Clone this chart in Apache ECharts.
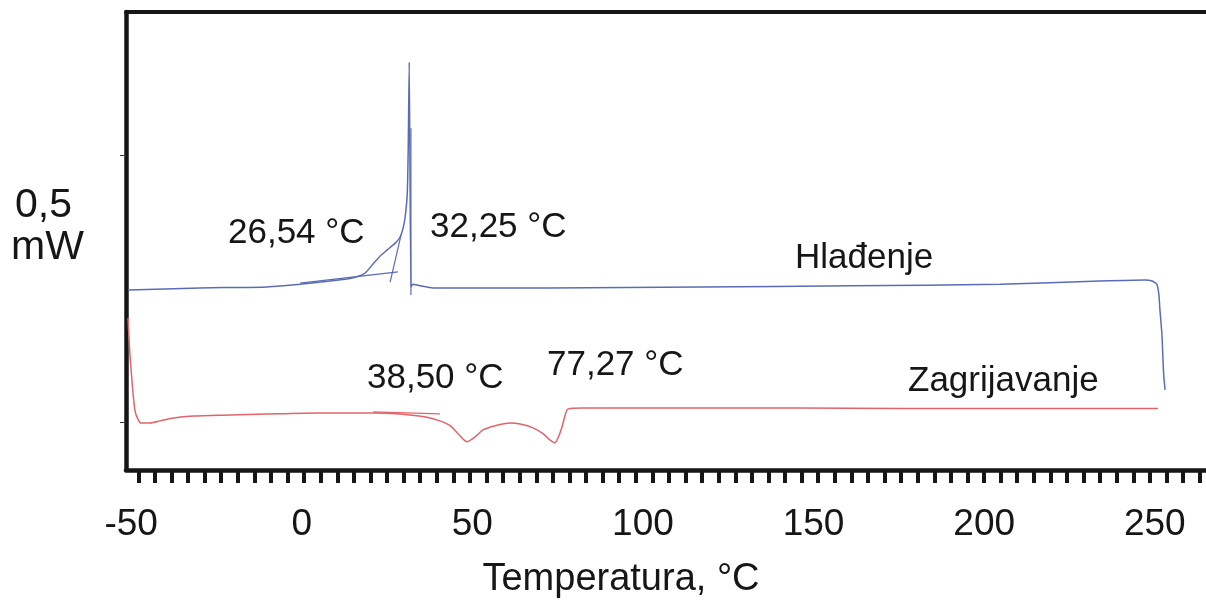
<!DOCTYPE html>
<html>
<head>
<meta charset="utf-8">
<script src="https://cdn.jsdelivr.net/npm/echarts@6/dist/echarts.min.js"></script>
<style>
  html, body { margin: 0; padding: 0; background: #fff; }
  #chartDiv { width: 1206px; height: 603px; }
</style>
</head>
<body>
<div id="chartDiv"></div>
<script>
// DSC krivulje: temperatura (°C), toplinski tok (mW, relativno)
let coolingCurve = [
  [-50.9, 0.247], [-29.8, 0.251], [-10.2, 0.253], [-0.5, 0.258], [13.3, 0.268],
  [16.2, 0.272], [18.6, 0.279], [20.9, 0.296], [23.0, 0.311], [25.0, 0.322],
  [27.4, 0.335], [28.8, 0.346], [29.7, 0.363], [30.3, 0.384], [30.9, 0.425],
  [31.2, 0.509], [31.5, 0.674], [32.0, 0.253], [32.6, 0.258], [34.7, 0.255],
  [38.5, 0.251], [46.4, 0.251], [72.8, 0.251], [116.8, 0.253], [160.7, 0.255],
  [204.6, 0.258], [233.9, 0.264], [247.1, 0.266], [249.2, 0.264], [250.6, 0.258],
  [251.2, 0.238], [251.5, 0.210], [252.1, 0.163], [252.4, 0.116], [252.6, 0.088],
  [253.0, 0.060]
];
let heatingCurve = [
  [-50.9, 0.195], [-50.6, 0.154], [-50.3, 0.122], [-49.4, 0.051], [-48.8, 0.019],
  [-47.9, 0.004], [-47.1, -0.002], [-44.4, -0.002], [-41.5, 0.002], [-38.0, 0.007],
  [-31.8, 0.011], [-21.0, 0.013], [-10.2, 0.015], [5.4, 0.017], [20.9, 0.017],
  [28.8, 0.015], [36.7, 0.009], [40.5, 0.002], [43.5, -0.007], [45.8, -0.022],
  [48.4, -0.037], [50.8, -0.028], [53.1, -0.015], [56.7, -0.007], [61.0, -0.002],
  [64.0, -0.004], [67.8, -0.011], [70.7, -0.022], [72.8, -0.034], [74.2, -0.039],
  [75.1, -0.030], [76.3, -0.009], [77.2, 0.013], [78.0, 0.024], [82.4, 0.026],
  [87.4, 0.026], [116.8, 0.026], [146.0, 0.026], [175.3, 0.025], [204.6, 0.025],
  [233.9, 0.025], [250.9, 0.025]
];
// pomoćne linije (tangente za onset)
let coolingBaseline = [[-0.5, 0.260], [28.2, 0.281]];
let coolingOnset = [[25.9, 0.262], [29.1, 0.350]];
let coolingPeakLine = [[32.0, 0.238], [32.0, 0.55]];
let heatingBaseline = [[20.9, 0.019], [40.5, 0.015]];

let xLabels = [-50, 0, 50, 100, 150, 200, 250];
let yTicks = [0, 0.5];

// oznake na osi x (ne poklapaju se točno s brojevima)
let tickStart = -47.9, tickStep = 4.86, tickCount = 65;
let xTicks = [];
for (let i = 0; i < tickCount; i++) {
  xTicks.push(+(tickStart + i * tickStep).toFixed(2));
}

let blue = '#5a6cb6';
let red = '#e2646a';
let ink = '#161616';
let fontFamily = '"Liberation Sans", Arial, sans-serif';

let myChart = echarts.init(document.getElementById('chartDiv'));

function txt(text, x, y, size) {
  return {
    type: 'text', x: x, y: y, silent: true,
    style: { text: text, fill: ink, fontSize: size, fontFamily: fontFamily,
             align: 'left', verticalAlign: 'middle' }
  };
}

let option = {
  backgroundColor: '#fff',
  animation: false,
  grid: { left: 126, right: 0, top: 12, bottom: 133, containLabel: false },
  xAxis: [{
    type: 'value', min: -51.5, max: 265,
    axisLine: { show: true, onZero: false, lineStyle: { color: ink, width: 4.5 } },
    axisTick: { show: true, customValues: xTicks, length: 13, lineStyle: { color: ink, width: 4 } },
    axisLabel: { customValues: xLabels, color: ink, fontSize: 37, fontFamily: fontFamily, margin: 36 },
    splitLine: { show: false }
  }, {
    type: 'value', min: -51.5, max: 265, position: 'top',
    axisLine: { show: true, onZero: false, lineStyle: { color: ink, width: 4 } },
    axisTick: { show: false }, axisLabel: { show: false }, splitLine: { show: false }
  }],
  yAxis: {
    type: 'value', min: -0.09, max: 0.768,
    axisLine: { show: true, onZero: false, lineStyle: { color: ink, width: 4.5 } },
    axisTick: { show: true, customValues: yTicks, length: 6, lineStyle: { color: '#333', width: 1 } },
    axisLabel: { show: false },
    splitLine: { show: false }
  },
  series: [
    { name: 'Hlađenje', type: 'line', data: coolingCurve, showSymbol: false, smooth: 0.15,
      lineStyle: { color: blue, width: 1.5 }, z: 3 },
    { name: 'Zagrijavanje', type: 'line', data: heatingCurve, showSymbol: false, smooth: 0.25,
      lineStyle: { color: red, width: 1.5 }, z: 3 },
    { type: 'line', data: coolingBaseline, showSymbol: false, lineStyle: { color: blue, width: 1.2 } },
    { type: 'line', data: coolingOnset, showSymbol: false, lineStyle: { color: blue, width: 1.2 } },
    { type: 'line', data: coolingPeakLine, showSymbol: false, lineStyle: { color: blue, width: 1.2 } },
    { type: 'line', data: heatingBaseline, showSymbol: false, lineStyle: { color: red, width: 1.2 } }
  ],
  graphic: [
    txt('0,5', 15, 206, 41),
    txt('mW', 11, 248, 41),
    txt('26,54 °C', 228, 233, 35),
    txt('32,25 °C', 430, 227, 35),
    txt('Hlađenje', 795, 258, 35),
    txt('38,50 °C', 367, 378, 35),
    txt('77,27 °C', 547, 365, 35),
    txt('Zagrijavanje', 908, 381, 35),
    { type: 'text', x: 621, y: 580, silent: true,
      style: { text: 'Temperatura, °C', fill: ink, fontSize: 38, fontFamily: fontFamily,
               align: 'center', verticalAlign: 'middle' } }
  ]
};
myChart.setOption(option);
window.onresize = myChart.resize;
</script>
</body>
</html>
